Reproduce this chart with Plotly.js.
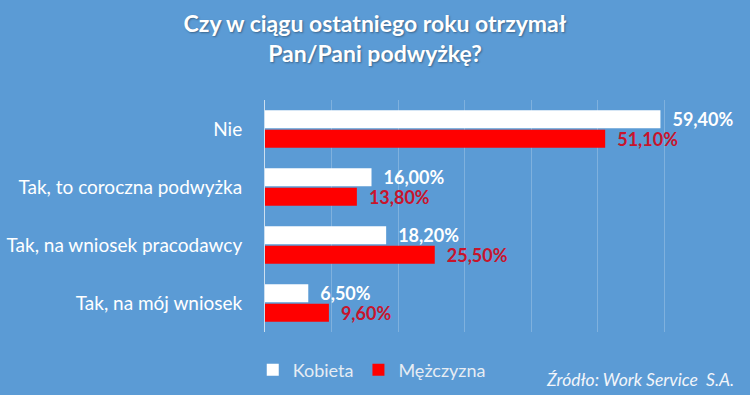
<!DOCTYPE html>
<html>
<head>
<meta charset="utf-8">
<script src="https://cdn.plot.ly/plotly-3.0.1.min.js"></script>
<style>
html,body{margin:0;padding:0;background:#5B9BD5;}
#chart{width:750px;height:395px;}
</style>
</head>
<body>
<div id="chart"></div>
<script>
const categories = ["Nie", "Tak, to coroczna podwyżka", "Tak, na wniosek pracodawcy", "Tak, na mój wniosek"];
const seriesNames = ["Kobieta", "Mężczyzna"];
const kobieta = [59.4, 16.0, 18.2, 6.5];
const mezczyzna = [51.1, 13.8, 25.5, 9.6];
const titleText = "Czy w ciągu ostatniego roku otrzymał<br>Pan/Pani podwyżkę?";
const sourceText = "Źródło: Work Service  S.A.";

function fmt(v){ return '\u2002' + v.toFixed(2).replace('.', ',') + '%'; }

const FONT = 'Lato, "Open Sans", sans-serif';

const traces = [
  {
    type: 'bar', orientation: 'h', name: seriesNames[0],
    y: categories, x: kobieta,
    marker: {color: '#FFFFFF'},
    text: kobieta.map(fmt), textposition: 'outside', cliponaxis: false, constraintext: 'none',
    textfont: {family: FONT, size: 18, color: '#FFFFFF', weight: 'bold'},
    hoverinfo: 'x+y'
  },
  {
    type: 'bar', orientation: 'h', name: seriesNames[1],
    y: categories, x: mezczyzna,
    marker: {color: '#FF0000'},
    text: mezczyzna.map(fmt), textposition: 'outside', cliponaxis: false, constraintext: 'none',
    textfont: {family: FONT, size: 18, color: '#C8142C', weight: 'bold'},
    hoverinfo: 'x+y'
  }
];

const layout = {
  width: 750, height: 395,
  paper_bgcolor: '#5B9BD5', plot_bgcolor: '#5B9BD5',
  margin: {l: 265, r: 19, t: 100, b: 63},
  barmode: 'group', bargap: 0.33, bargroupgap: 0.08,
  font: {family: FONT, color: '#FFFFFF'},
  title: {
    text: titleText,
    font: {family: FONT, size: 23, color: '#FFFFFF', weight: 'bold', shadow: '1px 1px 2px rgba(0,0,0,0.35)'},
    x: 0.5, xanchor: 'center', xref: 'container',
    y: 0.918, yanchor: 'top', yref: 'container'
  },
  xaxis: {
    range: [0, 70], dtick: 10, showticklabels: false,
    showgrid: true, gridcolor: 'rgba(255,255,255,0.22)', gridwidth: 1,
    zeroline: false, showline: false, fixedrange: true
  },
  yaxis: {
    autorange: 'reversed', showline: true, linecolor: 'rgba(225,235,245,0.85)', linewidth: 1,
    ticks: '', ticklabelstandoff: 18,
    tickfont: {family: FONT, size: 19, color: '#FFFFFF'},
    showgrid: false, zeroline: false, fixedrange: true
  },
  showlegend: true,
  legend: {
    orientation: 'h', x: 0.337, xanchor: 'left', xref: 'container',
    y: 0.063, yanchor: 'middle', yref: 'container',
    font: {family: FONT, size: 18, color: '#E6ECF3'},
    itemwidth: 30, traceorder: 'normal', bgcolor: 'rgba(0,0,0,0)'
  },
  annotations: [{
    text: sourceText, xref: 'paper', yref: 'paper',
    x: 1.01, xanchor: 'right', y: -0.205, yanchor: 'middle',
    showarrow: false,
    font: {family: FONT, size: 17.5, color: '#F2F5FA', style: 'italic'}
  }]
};

Plotly.newPlot('chart', traces, layout, {displayModeBar: false, staticPlot: true});
</script>
</body>
</html>
